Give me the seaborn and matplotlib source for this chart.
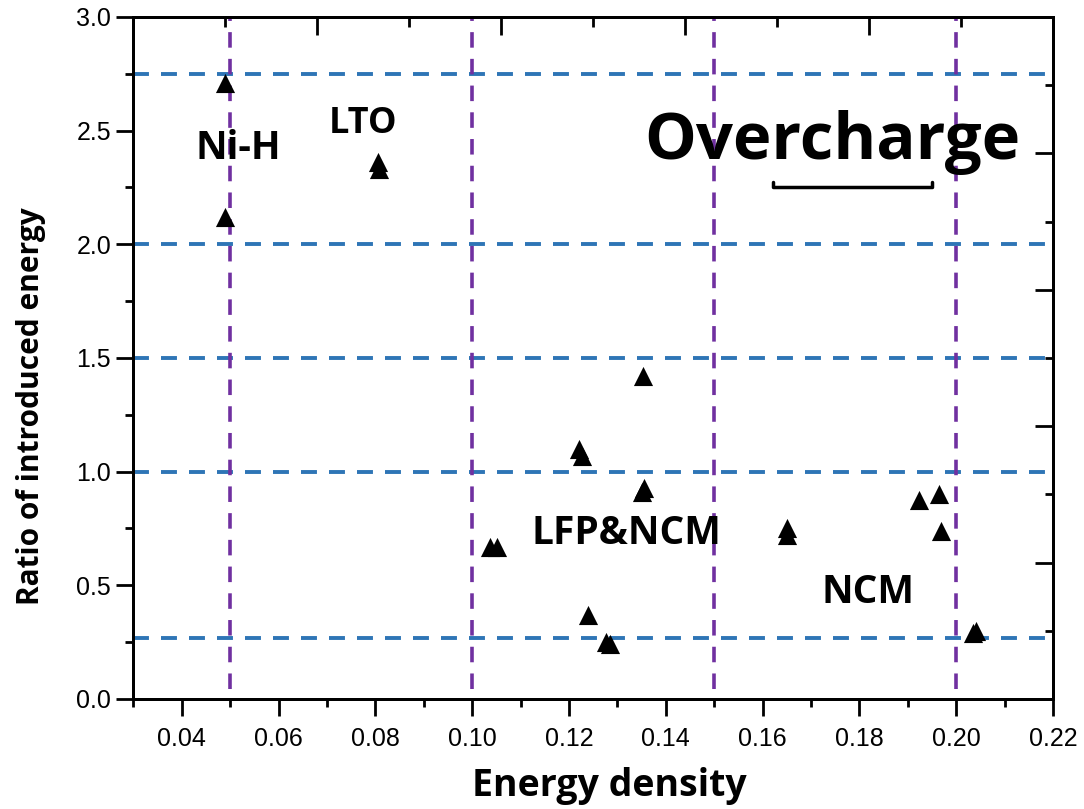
import numpy as np
import pandas as pd
import matplotlib
matplotlib.use("Agg")
import matplotlib.pyplot as plt
import seaborn as sns
from matplotlib.ticker import MultipleLocator

# energy density vs ratio of introduced energy (overcharge)
energy_density = [0.049, 0.049, 0.0805, 0.0807, 0.1037, 0.1051, 0.1220, 0.1227,
                  0.1240, 0.1277, 0.1284, 0.1350, 0.1355, 0.1353, 0.1650, 0.1650,
                  0.1923, 0.1964, 0.1968, 0.2034, 0.2040]
energy_ratio = [2.71, 2.12, 2.36, 2.33, 0.67, 0.67, 1.10, 1.07,
                0.37, 0.25, 0.24, 0.91, 0.93, 1.42, 0.75, 0.72,
                0.875, 0.90, 0.74, 0.29, 0.30]

h_levels = [2.75, 2.0, 1.5, 1.0, 0.27]
v_levels = [0.05, 0.10, 0.15, 0.20]

group_names = ["Ni-H", "LTO", "LFP&NCM", "NCM"]
group_x = [0.0516, 0.0774, 0.1318, 0.1818]
group_y = [2.42, 2.53, 0.73, 0.47]
group_size = [28, 26, 28, 28]

df = pd.DataFrame({"Energy density": energy_density, "Ratio": energy_ratio})

sns.set_style("ticks")
plt.rcParams["font.family"] = ["Liberation Sans", "DejaVu Sans"]
plt.rcParams["text.color"] = "black"
plt.rcParams["axes.labelcolor"] = "black"
plt.rcParams["axes.edgecolor"] = "black"
plt.rcParams["xtick.color"] = "black"
plt.rcParams["ytick.color"] = "black"

fig = plt.figure(figsize=(10.84, 8.09), dpi=100)
ax = fig.add_axes([0.123, 0.136, 0.8484, 0.843])

blue = "#2E75B6"
purple = "#7030A0"
for h in h_levels:
    ax.axhline(h, color=blue, lw=2.8, dashes=(4.1, 3.1), zorder=1)
for v in v_levels:
    ax.axvline(v, ymin=0.015, ymax=1.0, color=purple, lw=2.6, dashes=(4.3, 3.1), zorder=1)

sns.scatterplot(data=df, x="Energy density", y="Ratio", marker="^", s=190,
                color="black", edgecolor="black", linewidth=0, ax=ax, zorder=3)

ax.set_xlim(0.03, 0.22)
ax.set_ylim(0, 3.0)
ax.xaxis.set_minor_locator(MultipleLocator(0.01))
ax.yaxis.set_major_locator(MultipleLocator(0.5))
ax.yaxis.set_minor_locator(MultipleLocator(0.25))
xt = np.arange(0.04, 0.2201, 0.02)
ax.set_xticks(xt)
ax.set_xticklabels([f"{t:.2f}" for t in xt])
ax.tick_params(which="major", direction="out", length=12, width=2, labelsize=18, pad=8)
ax.tick_params(which="minor", direction="out", length=6, width=2)
ax.tick_params(axis="y", pad=4)
for sp in ax.spines.values():
    sp.set_linewidth(2)
    sp.set_visible(True)

ax.set_xlabel("Energy density", fontsize=27, fontweight="bold",
              family=["Open Sans", "DejaVu Sans"], labelpad=12)
ax.set_ylabel("Ratio of introduced energy", fontsize=21.5, fontweight="bold",
              family=["Open Sans", "DejaVu Sans"], labelpad=22)
ax.xaxis.label.set_x(0.518)
ax.yaxis.label.set_y(0.43)

# top / right axes have their own tick spacing
axt = ax.twiny()
axt.set_xlim(0, 10)
axt.xaxis.set_major_locator(MultipleLocator(2))
axt.xaxis.set_minor_locator(MultipleLocator(1))
axt.tick_params(which="major", direction="in", length=13, width=2, labeltop=False)
axt.tick_params(which="minor", direction="in", length=7, width=2)
axr = ax.twinx()
axr.set_ylim(0, 3.0)
axr.yaxis.set_major_locator(MultipleLocator(0.6))
axr.yaxis.set_minor_locator(MultipleLocator(0.3))
axr.tick_params(which="major", direction="in", length=13, width=2, labelright=False)
axr.tick_params(which="minor", direction="in", length=6, width=2)
for a in (axt, axr):
    for sp in a.spines.values():
        sp.set_linewidth(2)

for name, gx, gy, fs in zip(group_names, group_x, group_y, group_size):
    ax.text(gx, gy, name, fontsize=fs, fontweight="bold", ha="center", va="center",
            family=["Open Sans", "DejaVu Sans"], zorder=4)

ax.text(0.1745, 2.45, "Overcharge", fontsize=47, fontweight="bold", ha="center",
        va="center", family=["Open Sans", "DejaVu Sans"], zorder=4)
ax.plot([0.6955, 0.6955, 0.868, 0.868], [0.758, 0.751, 0.751, 0.758],
        transform=ax.transAxes, color="black", lw=2.5, zorder=4)

fig.savefig("out.png", dpi=100)
